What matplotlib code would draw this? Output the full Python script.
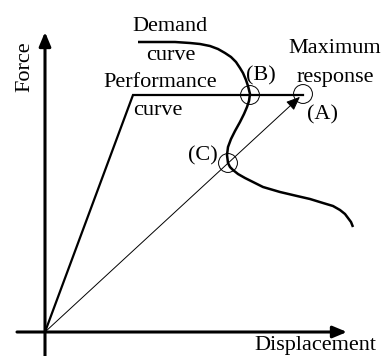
import matplotlib
matplotlib.use("Agg")
import matplotlib.pyplot as plt

# Data (displacement, force) in arbitrary chart units, origin at axes crossing
perf_disp = [0, 88, 258]
perf_force = [0, 237, 237]

demand_disp = [93, 115, 130, 145, 155, 165, 173, 180, 186, 191, 195, 198, 201, 203, 205,
               204, 202, 199, 195, 190, 186, 183, 182, 183, 185, 188, 193, 200, 210,
               218, 235, 252, 265, 278, 288, 295, 300, 303, 306, 308]
demand_force = [290, 290, 290, 289, 288, 286, 283, 279, 275, 270, 264, 259, 252, 246, 238,
                231, 225, 218, 210, 201, 193, 185, 177, 169, 165, 162, 158, 154, 149,
                145, 140, 136, 133, 129, 126, 122, 118, 114, 110, 105]

point_A = (258, 238)
point_B = (205, 237)
point_C = (183, 169)

labels_points = ["(A)", "(B)", "(C)"]

plt.rcParams['font.family'] = ['Liberation Serif', 'DejaVu Serif']

fig = plt.figure(figsize=(3.88, 3.56), dpi=100)
ax = fig.add_axes([0, 0, 1, 1])
ax.set_xlim(-45, 343)
ax.set_ylim(-24, 332)
ax.axis('off')

# Axes arrows
ax.annotate('', xy=(0, 300), xytext=(0, -24),
            arrowprops=dict(arrowstyle='-|>,head_length=0.6,head_width=0.25',
                            mutation_scale=14, lw=2.2, color='black',
                            shrinkA=0, shrinkB=0))
ax.annotate('', xy=(302, 0), xytext=(-28, 0),
            arrowprops=dict(arrowstyle='-|>,head_length=0.6,head_width=0.25',
                            mutation_scale=14, lw=2.2, color='black',
                            shrinkA=0, shrinkB=0))

# Performance curve
ax.plot(perf_disp, perf_force, color='black', lw=1.6, solid_joinstyle='miter')

# Demand curve
ax.plot(demand_disp, demand_force, color='black', lw=1.8,
        solid_joinstyle='round', solid_capstyle='butt')

# Thin arrow to maximum response
ax.annotate('', xy=point_A, xytext=(0, 0),
            arrowprops=dict(arrowstyle='-|>,head_length=0.6,head_width=0.25',
                            mutation_scale=14, lw=0.7, color='black',
                            shrinkA=0, shrinkB=3))

# Circles
for p in (point_A, point_B, point_C):
    ax.scatter([p[0]], [p[1]], s=185, facecolors='none', edgecolors='black',
               linewidths=0.7, zorder=5)

fs = 16
ax.text(-20, 265, 'Force', rotation=90, ha='center', va='center', fontsize=fs)
ax.text(270, -18, 'Displacement', ha='center', va='baseline', fontsize=fs)
ax.text(125, 301, 'Demand', ha='center', va='baseline', fontsize=fs)
ax.text(126, 272, 'curve', ha='center', va='baseline', fontsize=fs)
ax.text(115, 245, 'Performance', ha='center', va='baseline', fontsize=fs)
ax.text(113, 217, 'curve', ha='center', va='baseline', fontsize=fs)
ax.text(290, 279, 'Maximum', ha='center', va='baseline', fontsize=fs)
ax.text(290, 250, 'response', ha='center', va='baseline', fontsize=fs)
ax.text(277, 213, labels_points[0], ha='center', va='baseline', fontsize=fs)
ax.text(216, 252, labels_points[1], ha='center', va='baseline', fontsize=fs)
ax.text(158, 172, labels_points[2], ha='center', va='baseline', fontsize=fs)

fig.savefig('out.png', dpi=100)
